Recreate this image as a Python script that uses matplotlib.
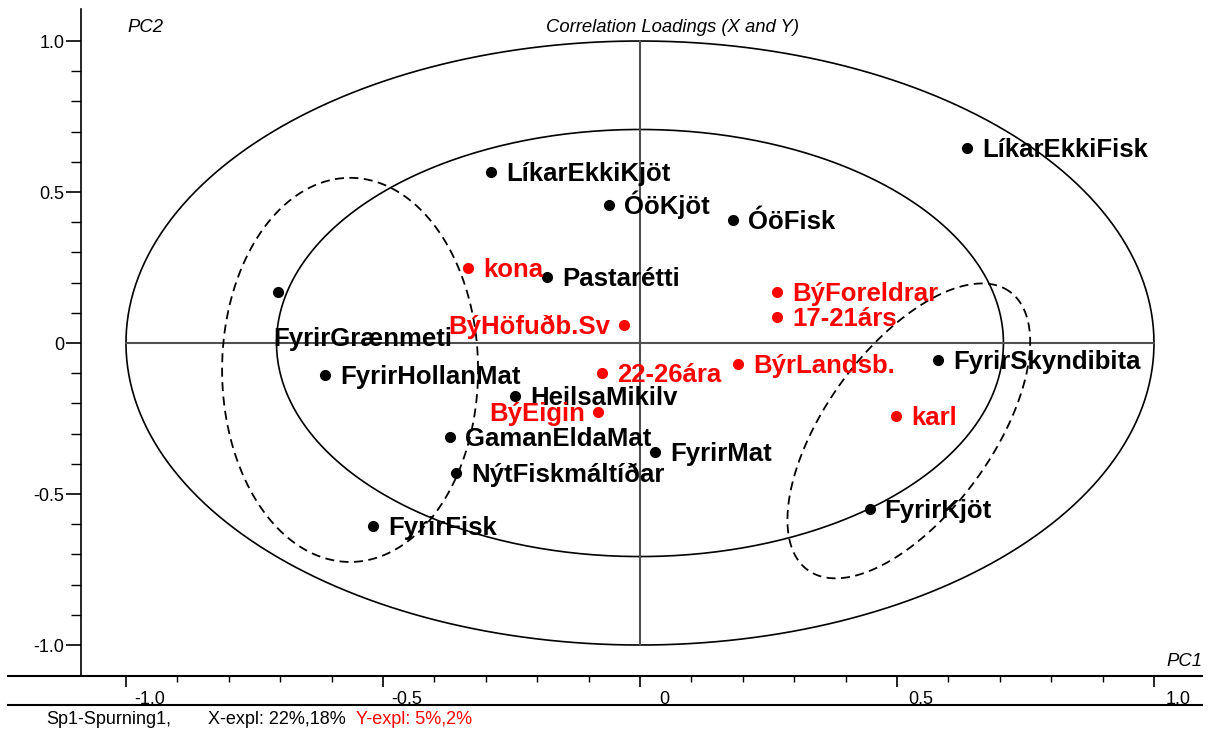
import numpy as np
import matplotlib
matplotlib.use("Agg")
import matplotlib.pyplot as plt
from matplotlib.lines import Line2D
from matplotlib.ticker import FixedLocator
from matplotlib.transforms import ScaledTranslation

plt.rcParams["font.family"] = ["Liberation Sans", "DejaVu Sans"]

# X-variables (black)
x_names = ["LíkarEkkiFisk", "LíkarEkkiKjöt", "ÓöKjöt", "ÓöFisk", "Pastarétti",
           "FyrirGrænmeti", "FyrirHollanMat", "HeilsaMikilv", "GamanEldaMat",
           "FyrirMat", "NýtFiskmáltíðar", "FyrirFisk", "FyrirSkyndibita", "FyrirKjöt"]
x_pc1 = [0.636, -0.290, -0.060, 0.181, -0.181, -0.704, -0.613, -0.243, -0.370,
         0.029, -0.358, -0.519, 0.580, 0.447]
x_pc2 = [0.646, 0.566, 0.457, 0.407, 0.219, 0.169, -0.106, -0.175, -0.311,
         -0.361, -0.430, -0.606, -0.056, -0.550]

# Y-variables (red)
y_names = ["kona", "BýHöfuðb.Sv", "BýForeldrar", "17-21árs", "22-26ára",
           "BýrLandsb.", "karl", "BýEigin"]
y_pc1 = [-0.335, -0.031, 0.267, 0.267, -0.074, 0.191, 0.498, -0.082]
y_pc2 = [0.248, 0.060, 0.169, 0.086, -0.099, -0.070, -0.242, -0.228]

tick_vals = [-1.0, -0.5, 0.0, 0.5, 1.0]
tick_labels = ["-1.0", "-0.5", "0", "0.5", "1.0"]

# label offsets in pixels (dx, baseline dy, align)
default_off = (15, -9, "left")
special_off = {"FyrirGrænmeti": (-5, -54, "left"),
               "BýHöfuðb.Sv": (-14, -9, "right"),
               "BýEigin": (-13, -9, "right")}

W, H = 1210, 731
fig = plt.figure(figsize=(W / 100, H / 100), dpi=100)
ax = fig.add_axes([81 / W, 1 - 676 / H, (1202 - 81) / W, (676 - 9) / H])
ax.set_xlim(-1.0875, 1.0934)
ax.set_ylim(-1.1026, 1.106)

t = np.linspace(0, 2 * np.pi, 500)
ax.plot(np.cos(t), np.sin(t), color="black", lw=1.2)
r = np.sqrt(0.5)
ax.plot(r * np.cos(t), r * np.sin(t), color="black", lw=1.2)
ax.plot([-1, 1], [0, 0], color="#505050", lw=1.5)
ax.plot([0, 0], [-1, 1], color="#505050", lw=1.5)

# dashed groupings (left one axis aligned, right one tilted in screen space)
ax.plot(-0.564 + 0.249 * np.cos(t), -0.089 + 0.636 * np.sin(t),
        color="black", lw=1.3, ls=(0, (5, 3)))
a, b, ang = 172, 83, np.deg2rad(54)
dx = a * np.cos(t) * np.cos(ang) - b * np.sin(t) * np.sin(ang)
dy = a * np.cos(t) * np.sin(ang) + b * np.sin(t) * np.cos(ang)
ax.plot(0.523 + dx / 514, -0.291 + dy / 302, color="black", lw=1.3, ls=(0, (5, 3)))

def put_points(names, xs, ys, col):
    ax.plot(xs, ys, "o", color=col, ms=7, ls="none")
    for n, xv, yv in zip(names, xs, ys):
        ox, oy, ha = special_off.get(n, default_off)
        ax.annotate(n, (xv, yv), xytext=(ox * 0.72, oy * 0.72), textcoords="offset points",
                    ha=ha, va="baseline", fontsize=18.5, fontweight="bold", color=col)

put_points(x_names, x_pc1, x_pc2, "black")
put_points(y_names, y_pc1, y_pc2, "#ff0000")

for s in ["top", "right", "bottom"]:
    ax.spines[s].set_visible(False)
ax.spines["left"].set_linewidth(1.2)

ax.xaxis.set_major_locator(FixedLocator(tick_vals))
ax.xaxis.set_minor_locator(FixedLocator(np.arange(-10, 11) / 10))
ax.yaxis.set_major_locator(FixedLocator(tick_vals))
ax.yaxis.set_minor_locator(FixedLocator(np.arange(-10, 11) / 10))
ax.set_xticklabels(tick_labels)
ax.set_yticklabels(tick_labels)
ax.tick_params(axis="x", which="major", direction="out", length=8, width=1.2, labelsize=13, pad=3)
ax.tick_params(axis="x", which="minor", direction="out", length=4, width=1.0)
ax.tick_params(axis="y", which="major", direction="out", length=11, width=1.2, labelsize=13, pad=1)
ax.tick_params(axis="y", which="minor", direction="out", length=7, width=1.0)
for lab in ax.get_xticklabels():
    lab.set_transform(lab.get_transform() + ScaledTranslation(0.24, 0, fig.dpi_scale_trans))

fig.add_artist(Line2D([8 / W, 1202 / W], [1 - 676 / H] * 2, color="black", lw=1.5,
                      transform=fig.transFigure))
fig.add_artist(Line2D([8 / W, 1202 / W], [1 - 705 / H] * 2, color="black", lw=1.5,
                      transform=fig.transFigure))

fig.text(672 / W, 1 - 27 / H, "Correlation Loadings (X and Y)", style="italic",
         ha="center", va="center", fontsize=13.3)
fig.text(145 / W, 1 - 27 / H, "PC2", style="italic", ha="center", va="center", fontsize=13.3)
fig.text(1202 / W, 1 - 662 / H, "PC1", style="italic", ha="right", va="center", fontsize=13.3)

fig.text(46 / W, 1 - 719 / H, "Sp1-Spurning1,", ha="left", va="center", fontsize=13)
fig.text(208 / W, 1 - 719 / H, "X-expl: 22%,18%", ha="left", va="center", fontsize=13)
fig.text(356 / W, 1 - 719 / H, "Y-expl: 5%,2%", ha="left", va="center", fontsize=13,
         color="#ff0000")

fig.savefig("out.png", dpi=100)
